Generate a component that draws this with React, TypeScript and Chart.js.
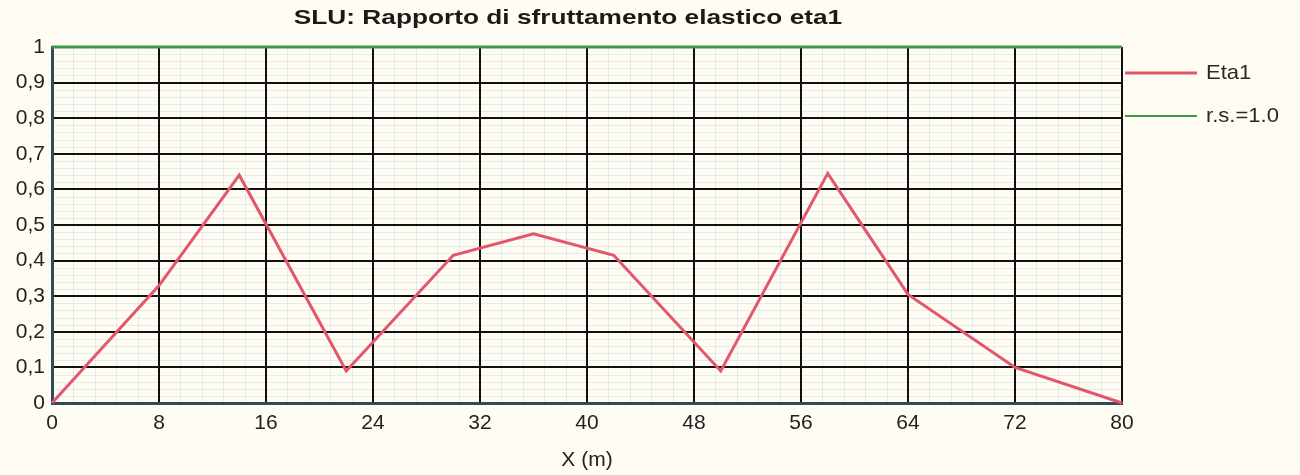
import React, { useEffect, useRef } from "react";
import { Chart, registerables } from "chart.js";

Chart.register(...registerables);

const TITLE = "SLU: Rapporto di sfruttamento elastico eta1";
const X_TITLE = "X (m)";
const xValues = [0, 8, 14, 22, 30, 36, 42, 50, 58, 64, 72, 80];
const eta1Values = [0, 0.33, 0.64, 0.09, 0.415, 0.475, 0.415, 0.09, 0.645, 0.305, 0.1, 0];
const rsX = [0, 80];
const rsValues = [1, 1];
const seriesLabels = ["Eta1", "r.s.=1.0"];
const seriesColors = ["#e4566a", "#3e9a48"];

const BG = "#fffdf3";
const FONT = "'Liberation Sans', Arial, sans-serif";

export default function App() {
  const ref = useRef<HTMLCanvasElement | null>(null);

  useEffect(() => {
    if (!ref.current) return;

    const bgPlugin = {
      id: "bgMinor",
      beforeDraw(chart: any) {
        const { ctx, chartArea: a, scales } = chart;
        ctx.save();
        ctx.fillStyle = BG;
        ctx.fillRect(0, 0, chart.width, chart.height);
        ctx.strokeStyle = "rgba(170,200,220,0.3)";
        ctx.lineWidth = 1;
        const xs = scales.x;
        const ys = scales.y;
        for (let i = 0; i <= 50; i++) {
          const v = i * 1.6;
          const px = Math.round(xs.getPixelForValue(v)) + 0.5;
          ctx.beginPath();
          ctx.moveTo(px, a.top);
          ctx.lineTo(px, a.bottom);
          ctx.stroke();
        }
        for (let i = 0; i <= 50; i++) {
          const v = i * 0.02;
          const py = Math.round(ys.getPixelForValue(v)) + 0.5;
          ctx.beginPath();
          ctx.moveTo(a.left, py);
          ctx.lineTo(a.right, py);
          ctx.stroke();
        }
        ctx.restore();
      },
      afterDraw(chart: any) {
        const { ctx } = chart;
        ctx.save();
        ctx.fillStyle = "#1a1a1a";
        ctx.font = `bold 21px ${FONT}`;
        ctx.textBaseline = "middle";
        ctx.textAlign = "center";
        ctx.save();
        ctx.translate(568, 18);
        ctx.scale(1.25, 1);
        ctx.fillText(TITLE, 0, 0);
        ctx.restore();
        const ys = [73, 116];
        chart.data.datasets.forEach((ds: any, i: number) => {
          ctx.strokeStyle = ds.borderColor;
          ctx.lineWidth = i === 0 ? 3 : 2;
          ctx.beginPath();
          ctx.moveTo(1125, ys[i]);
          ctx.lineTo(1197, ys[i]);
          ctx.stroke();
          ctx.fillStyle = "#2a2a2a";
          ctx.font = `21px ${FONT}`;
          ctx.textAlign = "left";
          ctx.save();
          ctx.translate(1206, ys[i]);
          ctx.scale(1.05, 1);
          ctx.fillText(ds.label, 0, 0);
          ctx.restore();
        });
        ctx.restore();
      },
    };

    const chart = new Chart(ref.current, {
      type: "line",
      data: {
        datasets: [
          {
            label: seriesLabels[0],
            data: xValues.map((x, i) => ({ x, y: eta1Values[i] })),
            borderColor: seriesColors[0],
            borderWidth: 3,
            pointRadius: 0,
            tension: 0,
            clip: false,
            order: 1,
          },
          {
            label: seriesLabels[1],
            data: rsX.map((x, i) => ({ x, y: rsValues[i] })),
            borderColor: seriesColors[1],
            borderWidth: 3,
            pointRadius: 0,
            tension: 0,
            clip: false,
            order: 0,
          },
        ],
      },
      plugins: [bgPlugin],
      options: {
        animation: false,
        responsive: false,
        maintainAspectRatio: false,
        layout: { padding: { top: 47, right: 178, left: 0, bottom: 0 } },
        plugins: {
          legend: { display: false },
          title: { display: false },
          tooltip: { enabled: false },
        },
        scales: {
          x: {
            type: "linear",
            min: 0,
            max: 80,
            afterFit: (s: any) => {
              s.height = 72;
            },
            ticks: {
              stepSize: 8,
              color: "#222",
              font: { family: FONT, size: 21 },
              padding: 8,
              maxRotation: 0,
            },
            grid: { color: "#111", lineWidth: 2, drawTicks: false },
            border: { color: "#2f4c57", width: 3 },
            title: {
              display: true,
              text: X_TITLE,
              color: "#222",
              font: { family: FONT, size: 21 },
              padding: { top: 0, bottom: 2 },
            },
          },
          y: {
            min: 0,
            max: 1,
            afterFit: (s: any) => {
              s.width = 52;
            },
            ticks: {
              stepSize: 0.1,
              color: "#222",
              font: { family: FONT, size: 21 },
              padding: 7,
              callback: (v: any) => {
                const n = Number(v);
                if (Math.abs(n - 1) < 1e-9) return "1";
                if (Math.abs(n) < 1e-9) return "0";
                return n.toFixed(1).replace(".", ",");
              },
            },
            grid: { color: "#111", lineWidth: 2, drawTicks: false },
            border: { color: "#2f4c57", width: 3 },
          },
        },
      },
    });

    return () => chart.destroy();
  }, []);

  return (
    <div style={{ position: "fixed", left: 0, top: 0, width: 1300, height: 475, background: BG }}>
      <canvas ref={ref} width={1300} height={475} />
    </div>
  );
}
